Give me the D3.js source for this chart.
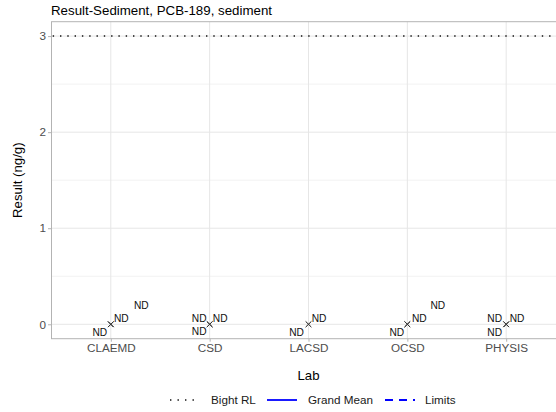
<!DOCTYPE html>
<html>
<head>
<meta charset="utf-8">
<script src="https://cdn.jsdelivr.net/npm/d3@7"></script>
<style>
  html, body { margin: 0; padding: 0; background: #fff; overflow: hidden; }
  svg { display: block; font-family: "Liberation Sans", Arial, sans-serif; }
</style>
</head>
<body>
<svg id="chart" width="556" height="412"></svg>
<script>
// ---- data ----
const labs = ["CLAEMD", "CSD", "LACSD", "OCSD", "PHYSIS"];
const sampleLab = ["CLAEMD", "CLAEMD", "CLAEMD", "CSD", "CSD", "CSD", "LACSD", "LACSD",
                   "OCSD", "OCSD", "OCSD", "PHYSIS", "PHYSIS", "PHYSIS"];
const sampleResult = [0, 0, 0, 0, 0, 0, 0, 0, 0, 0, 0, 0, 0, 0];
const sampleQualifier = ["ND", "ND", "ND", "ND", "ND", "ND", "ND", "ND",
                         "ND", "ND", "ND", "ND", "ND", "ND"];
const bightRL = 3;
const yTicks = [0, 1, 2, 3];
const yMinorTicks = [0.5, 1.5, 2.5];
const yDomain = [-0.15, 3.15];
const legendItems = ["Bight RL", "Grand Mean", "Limits"];
const titleText = "Result-Sediment, PCB-189, sediment";
const xTitle = "Lab";
const yTitle = "Result (ng/g)";

// ---- layout (repelled label offsets in px, like ggrepel output) ----
const labelNudge = [[-11, 8], [10.5, -5.5], [30.5, -18.5],
                    [-10.5, -5.5], [10.5, -5.5], [-10.5, 7.5],
                    [-12, 8], [10.5, -5.5],
                    [-10.5, 8], [12, -5.5], [30.5, -18.5],
                    [-11.5, -5.3], [10.8, -5.3], [-11.5, 7.8]];

const margin = { left: 51.5, right: 565.5, top: 21.7, bottom: 338.7 };
const svg = d3.select("#chart");

const x = d3.scalePoint().domain(labs).range([margin.left, margin.right]).padding(0.6);
const y = d3.scaleLinear().domain(yDomain).range([margin.bottom, margin.top]);

// grid
const grid = svg.append("g");
grid.selectAll(".ymin").data(yMinorTicks).join("line")
  .attr("x1", margin.left).attr("x2", margin.right)
  .attr("y1", d => y(d)).attr("y2", d => y(d))
  .attr("stroke", "#efefef").attr("stroke-width", 0.8);
grid.selectAll(".ymaj").data(yTicks).join("line")
  .attr("x1", margin.left).attr("x2", margin.right)
  .attr("y1", d => y(d)).attr("y2", d => y(d))
  .attr("stroke", "#e6e6e6").attr("stroke-width", 1);
grid.selectAll(".xmaj").data(labs).join("line")
  .attr("x1", d => x(d)).attr("x2", d => x(d))
  .attr("y1", margin.top).attr("y2", margin.bottom)
  .attr("stroke", "#e6e6e6").attr("stroke-width", 1);

// Bight RL line
svg.append("line")
  .attr("x1", margin.left).attr("x2", margin.right)
  .attr("y1", y(bightRL)).attr("y2", y(bightRL))
  .attr("stroke", "#111").attr("stroke-width", 1.5)
  .attr("stroke-dasharray", "1.4 5.9").attr("stroke-dashoffset", -1.2);

// points (shape x)
const pts = sampleLab.map((lab, i) => ({ lab, v: sampleResult[i], q: sampleQualifier[i], n: labelNudge[i] }));
const s = 2.8;
svg.append("g").selectAll("path").data(pts).join("path")
  .attr("d", d => {
    const cx = x(d.lab), cy = y(d.v);
    return `M${cx - s},${cy - s}L${cx + s},${cy + s}M${cx - s},${cy + s}L${cx + s},${cy - s}`;
  })
  .attr("stroke", "#333").attr("stroke-width", 0.8).attr("fill", "none");

// labels
svg.append("g").selectAll("text").data(pts).join("text")
  .attr("x", d => x(d.lab) + d.n[0])
  .attr("y", d => y(d.v) + d.n[1])
  .attr("text-anchor", "middle").attr("dominant-baseline", "central")
  .attr("font-size", 10.2).attr("fill", "#111")
  .text(d => d.q);

// panel border
svg.append("rect")
  .attr("x", margin.left).attr("y", margin.top)
  .attr("width", margin.right - margin.left).attr("height", margin.bottom - margin.top)
  .attr("fill", "none").attr("stroke", "#b3b3b3").attr("stroke-width", 1);

// axes
const yAxis = d3.axisLeft(y).tickValues(yTicks).tickFormat(d3.format("d")).tickSize(3.5).tickPadding(2);
const gy = svg.append("g").attr("transform", `translate(${margin.left},0)`).call(yAxis);
gy.select(".domain").remove();
gy.selectAll(".tick line").attr("stroke", "#b3b3b3");
gy.selectAll(".tick text").attr("font-size", 11.7).attr("fill", "#4d4d4d")
  .attr("font-family", "Liberation Sans, Arial, sans-serif");

const xAxis = d3.axisBottom(x).tickSize(3).tickPadding(2.5);
const gx = svg.append("g").attr("transform", `translate(0,${margin.bottom})`).call(xAxis);
gx.select(".domain").remove();
gx.selectAll(".tick line").attr("stroke", "#b3b3b3");
gx.selectAll(".tick text").attr("font-size", 11.7).attr("fill", "#4d4d4d")
  .attr("font-family", "Liberation Sans, Arial, sans-serif");

// titles
svg.append("text").attr("x", 51).attr("y", 15.3)
  .attr("font-size", 13.3).attr("fill", "#000").text(titleText);
svg.append("text").attr("x", (margin.left + margin.right) / 2).attr("y", 379.5)
  .attr("text-anchor", "middle").attr("font-size", 13.2).attr("fill", "#000").text(xTitle);
svg.append("text")
  .attr("transform", `translate(22.3,${(margin.top + margin.bottom) / 2}) rotate(-90)`)
  .attr("text-anchor", "middle").attr("font-size", 13.2).attr("fill", "#000").text(yTitle);

// legend
const legendKeys = [
  { x0: 170, text: 211, stroke: "#111", dash: "1.4 6.1", w: 1.5 },
  { x0: 267, text: 308, stroke: "#0000ff", dash: null, w: 1.8 },
  { x0: 385, text: 425, stroke: "#0000ff", dash: "8 6", w: 1.8 }
];
const lg = svg.append("g");
legendItems.forEach((name, i) => {
  const k = legendKeys[i];
  const ln = lg.append("line").attr("x1", k.x0).attr("x2", k.x0 + 30)
    .attr("y1", 400).attr("y2", 400)
    .attr("stroke", k.stroke).attr("stroke-width", k.w);
  if (k.dash) ln.attr("stroke-dasharray", k.dash);
  lg.append("text").attr("x", k.text).attr("y", 404.2)
    .attr("font-size", 11.7).attr("fill", "#1a1a1a").text(name);
});
</script>
</body>
</html>
